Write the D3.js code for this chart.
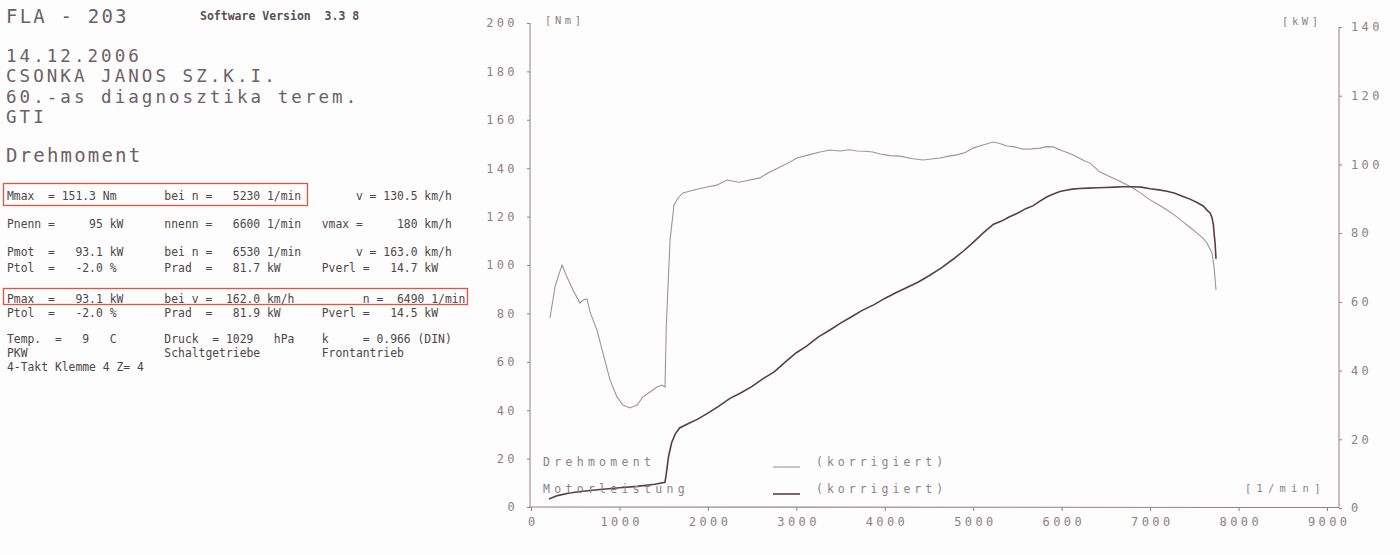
<!DOCTYPE html>
<html><head><meta charset="utf-8">
<script src="https://cdn.jsdelivr.net/npm/d3@7"></script>
<style>
html,body{margin:0;padding:0;background:#fefdfd;}
svg{display:block;}
text{white-space:pre;}
</style></head><body>
<svg id="c" width="1400" height="555"></svg>
<script>
// ---------- data ----------
const titleText = "FLA - 203";
const softwareText = "Software Version  3.3 8";
const headerLines = ["14.12.2006", "CSONKA JANOS SZ.K.I.", "60.-as diagnosztika terem.", "GTI"];
const sectionTitle = "Drehmoment";
const tableRows = [
  "Mmax  = 151.3 Nm       bei n =   5230 1/min        v = 130.5 km/h",
  "Pnenn =     95 kW      nnenn =   6600 1/min   vmax =     180 km/h",
  "Pmot  =   93.1 kW      bei n =   6530 1/min        v = 163.0 km/h",
  "Ptol  =   -2.0 %       Prad  =   81.7 kW      Pverl =   14.7 kW",
  "Pmax  =   93.1 kW      bei v =  162.0 km/h          n =  6490 1/min",
  "Ptol  =   -2.0 %       Prad  =   81.9 kW      Pverl =   14.5 kW",
  "Temp.  =   9   C       Druck  = 1029   hPa    k     = 0.966 (DIN)",
  "PKW                    Schaltgetriebe         Frontantrieb",
  "4-Takt Klemme 4 Z= 4"
];
const highlightRows = [0, 4];

const rpmTicks = [0, 1000, 2000, 3000, 4000, 5000, 6000, 7000, 8000, 9000];
const torqueTicks = [0, 20, 40, 60, 80, 100, 120, 140, 160, 180, 200];
const powerTicks = [0, 20, 40, 60, 80, 100, 120, 140];
const unitTorque = "[Nm]";
const unitPower = "[kW]";
const unitRpm = "[1/min]";
const legendLabels = ["Drehmoment", "Motorleistung"];
const legendNote = "(korrigiert)";

const torqueRpm = [215,271,305,351,407,475,554,588,633,667,746,814,893,972,1040,1119,1199,1266,1346,1425,1481,1515,1530,1572,1617,1662,1719,1800,1900,1990,2100,2216,2350,2476,2589,2680,2816,2900,3008,3140,3268,3380,3494,3600,3686,3780,3867,3946,4060,4172,4300,4432,4530,4625,4720,4817,4910,4998,5100,5224,5300,5382,5470,5563,5660,5755,5830,5902,6015,6100,6174,6250,6321,6434,6530,6626,6720,6807,6900,7000,7100,7191,7280,7372,7450,7530,7600,7643,7700,7723,7745];
const torqueNm = [78.1,90.9,95.0,100.0,95.0,89.7,84.3,85.5,86.0,80.6,73.1,63.6,52.5,45.5,42.1,40.9,42.1,45.5,47.5,49.6,50.4,49.6,75.0,110.3,124.8,127.7,129.8,130.6,131.5,132.2,133.0,135.1,134.2,135.1,136.0,138.0,140.5,142.0,144.2,145.5,146.7,147.5,147.1,147.6,147.1,147.0,146.7,145.9,145.2,145.0,144.0,143.4,143.8,144.2,145.0,145.5,146.5,148.3,149.5,150.8,150.2,149.2,148.8,147.9,148.0,148.3,148.9,148.8,147.1,146.0,144.6,143.2,142.1,138.4,136.8,135.1,133.5,131.8,129.5,126.9,124.8,122.7,120.5,117.8,115.6,113.2,111.0,109.1,105.0,99.2,89.7];

const powerRpm = [204,300,420,560,780,1000,1200,1400,1515,1530,1555,1590,1630,1680,1780,1880,2000,2120,2250,2380,2500,2620,2750,2880,3000,3120,3250,3380,3500,3620,3750,3880,4000,4120,4250,4380,4500,4640,4772,4890,5000,5110,5230,5320,5400,5500,5600,5680,5755,5830,5900,5980,6050,6120,6200,6300,6400,6500,6600,6700,6800,6900,7000,7100,7191,7280,7372,7450,7530,7600,7643,7680,7700,7715,7723,7735,7745];
const powerKw = [2.6,3.6,4.3,4.8,5.4,5.9,6.3,6.9,7.5,10.0,15.0,19.0,21.5,23.3,24.6,25.8,27.6,29.6,31.9,33.6,35.4,37.6,39.6,42.6,45.2,47.2,49.8,51.8,53.8,55.6,57.6,59.2,61.0,62.6,64.2,65.8,67.6,69.9,72.4,74.8,77.3,80.0,82.6,83.5,84.6,85.8,87.2,88.0,89.3,90.5,91.3,92.1,92.5,92.8,93.0,93.1,93.2,93.3,93.4,93.5,93.5,93.4,92.9,92.6,92.2,91.6,90.7,89.9,88.9,87.9,86.7,85.8,84.5,82.5,80.0,77.0,72.5];

// ---------- layout ----------
const svg = d3.select("#c");
const HEAD = "#6c6068", TAB = "#4c4648", AX = "#8d7f86", RED = "#e5533e";
const plotFont = "'DejaVu Sans Mono', monospace";

svg.append("rect").attr("width",1400).attr("height",555).attr("fill","#fefdfd");

// header
const hfs = 17.5, hls = 3.05;
svg.append("text").attr("x",6).attr("y",23).text(titleText)
  .attr("font-family",plotFont).attr("font-size",19).attr("letter-spacing",2.2).attr("fill",HEAD);
svg.append("text").attr("x",200).attr("y",20).text(softwareText)
  .attr("font-family",plotFont).attr("font-weight","bold").attr("font-size",11.5).attr("fill","#5a4f55");
const headerBase = [61.5, 82, 102.5, 123];
svg.selectAll("text.hl").data(headerLines).enter().append("text").attr("class","hl")
  .attr("x",6).attr("y",(d,i)=>headerBase[i]).text(d=>d)
  .attr("font-family",plotFont).attr("font-size",hfs).attr("letter-spacing",hls).attr("fill",HEAD);
svg.append("text").attr("x",6).attr("y",162).text(sectionTitle)
  .attr("font-family",plotFont).attr("font-size",19).attr("letter-spacing",2.2).attr("fill",HEAD);

// table
const colW = 6.85, tabX = 7;
const rowBase = [200, 228, 256, 272, 303, 317, 343, 357, 371];
const fs = 12.5, sx = colW / (fs * 0.602);
const tg = svg.append("g");
tableRows.forEach((r,i)=>{
  tg.append("text").attr("transform",`translate(${tabX},${rowBase[i]}) scale(${sx},1)`)
    .text(r).attr("font-family",plotFont).attr("font-size",fs).attr("fill",TAB);
});
const boxes = [{y:183.5, h:22, w:304}, {y:288.5, h:16, w:464}];
highlightRows.forEach((ri,k)=>{
  svg.append("rect").attr("x",3.5).attr("y",boxes[k].y).attr("width",boxes[k].w).attr("height",boxes[k].h)
    .attr("fill","none").attr("stroke",RED).attr("stroke-width",1.3);
});

// scales
const x = d3.scaleLinear().domain([0,9000]).range([531,1327]);
const yT = d3.scaleLinear().domain([0,200]).range([507,23]);
const yP = d3.scaleLinear().domain([0,140]).range([508,27]);

function styleAxis(g){
  g.select(".domain").remove();
  g.selectAll("line").attr("stroke",AX).attr("stroke-width",1);
  g.selectAll("text").attr("font-family",plotFont).attr("font-size",12).attr("letter-spacing",3.4).attr("fill",AX);
}
const gl = svg.append("g").attr("transform","translate(530,0)")
  .call(d3.axisLeft(yT).tickValues(torqueTicks).tickSize(3).tickPadding(9).tickFormat(d3.format("d")));
styleAxis(gl);
const gr = svg.append("g").attr("transform","translate(1339,0)")
  .call(d3.axisRight(yP).tickValues(powerTicks).tickSize(3).tickPadding(9).tickFormat(d3.format("d")));
styleAxis(gr);
const gb = svg.append("g").attr("transform","translate(0,507)")
  .call(d3.axisBottom(x).tickValues(rpmTicks).tickSize(4).tickPadding(6).tickFormat(d3.format("d")));
styleAxis(gb);
gb.selectAll("text").attr("dx",1.7);

// axis lines
svg.append("line").attr("x1",530).attr("x2",530).attr("y1",yT(200)).attr("y2",507).attr("stroke","#9a8a90").attr("stroke-width",1.1);
svg.append("line").attr("x1",1339).attr("x2",1339).attr("y1",yP(140)).attr("y2",508).attr("stroke","#a8848e").attr("stroke-width",1.1);
svg.append("line").attr("x1",530).attr("x2",1339).attr("y1",507).attr("y2",507.5).attr("stroke","#8f8388").attr("stroke-width",1.1);

// unit labels
const unitStyle = s=>s.attr("font-family",plotFont).attr("font-size",10.5).attr("letter-spacing",3.6).attr("fill",AX);
svg.append("text").attr("x",545).attr("y",24).text(unitTorque).call(unitStyle);
svg.append("text").attr("x",1282).attr("y",25).text(unitPower).call(unitStyle);
svg.append("text").attr("x",1245).attr("y",492).text(unitRpm).call(unitStyle).attr("letter-spacing",5.2);

// curves
const torqueData = d3.zip(torqueRpm, torqueNm);
const powerData = d3.zip(powerRpm, powerKw);
svg.append("path").datum(torqueData)
  .attr("d", d3.line().x(d=>x(d[0])).y(d=>yT(d[1])))
  .attr("fill","none").attr("stroke","#a09296").attr("stroke-width",1.1);
svg.append("path").datum(powerData)
  .attr("d", d3.line().x(d=>x(d[0])).y(d=>yP(d[1])))
  .attr("fill","none").attr("stroke","#5e3c44").attr("stroke-width",1.6);

// legend
const legY = [466, 493];
const legColors = ["#a09296", "#5e3c44"], legW = [1.1, 1.6];
legendLabels.forEach((l,i)=>{
  svg.append("text").attr("x",543).attr("y",legY[i]).text(l)
    .attr("font-family",plotFont).attr("font-size",11.5).attr("letter-spacing",4.3).attr("fill",AX);
  svg.append("line").attr("x1",773).attr("x2",800).attr("y1",legY[i]+1).attr("y2",legY[i]+1)
    .attr("stroke",legColors[i]).attr("stroke-width",legW[i]);
  svg.append("text").attr("x",816).attr("y",legY[i]).text(legendNote)
    .attr("font-family",plotFont).attr("font-size",11.5).attr("letter-spacing",4.0).attr("fill",AX);
});
</script>
</body></html>
